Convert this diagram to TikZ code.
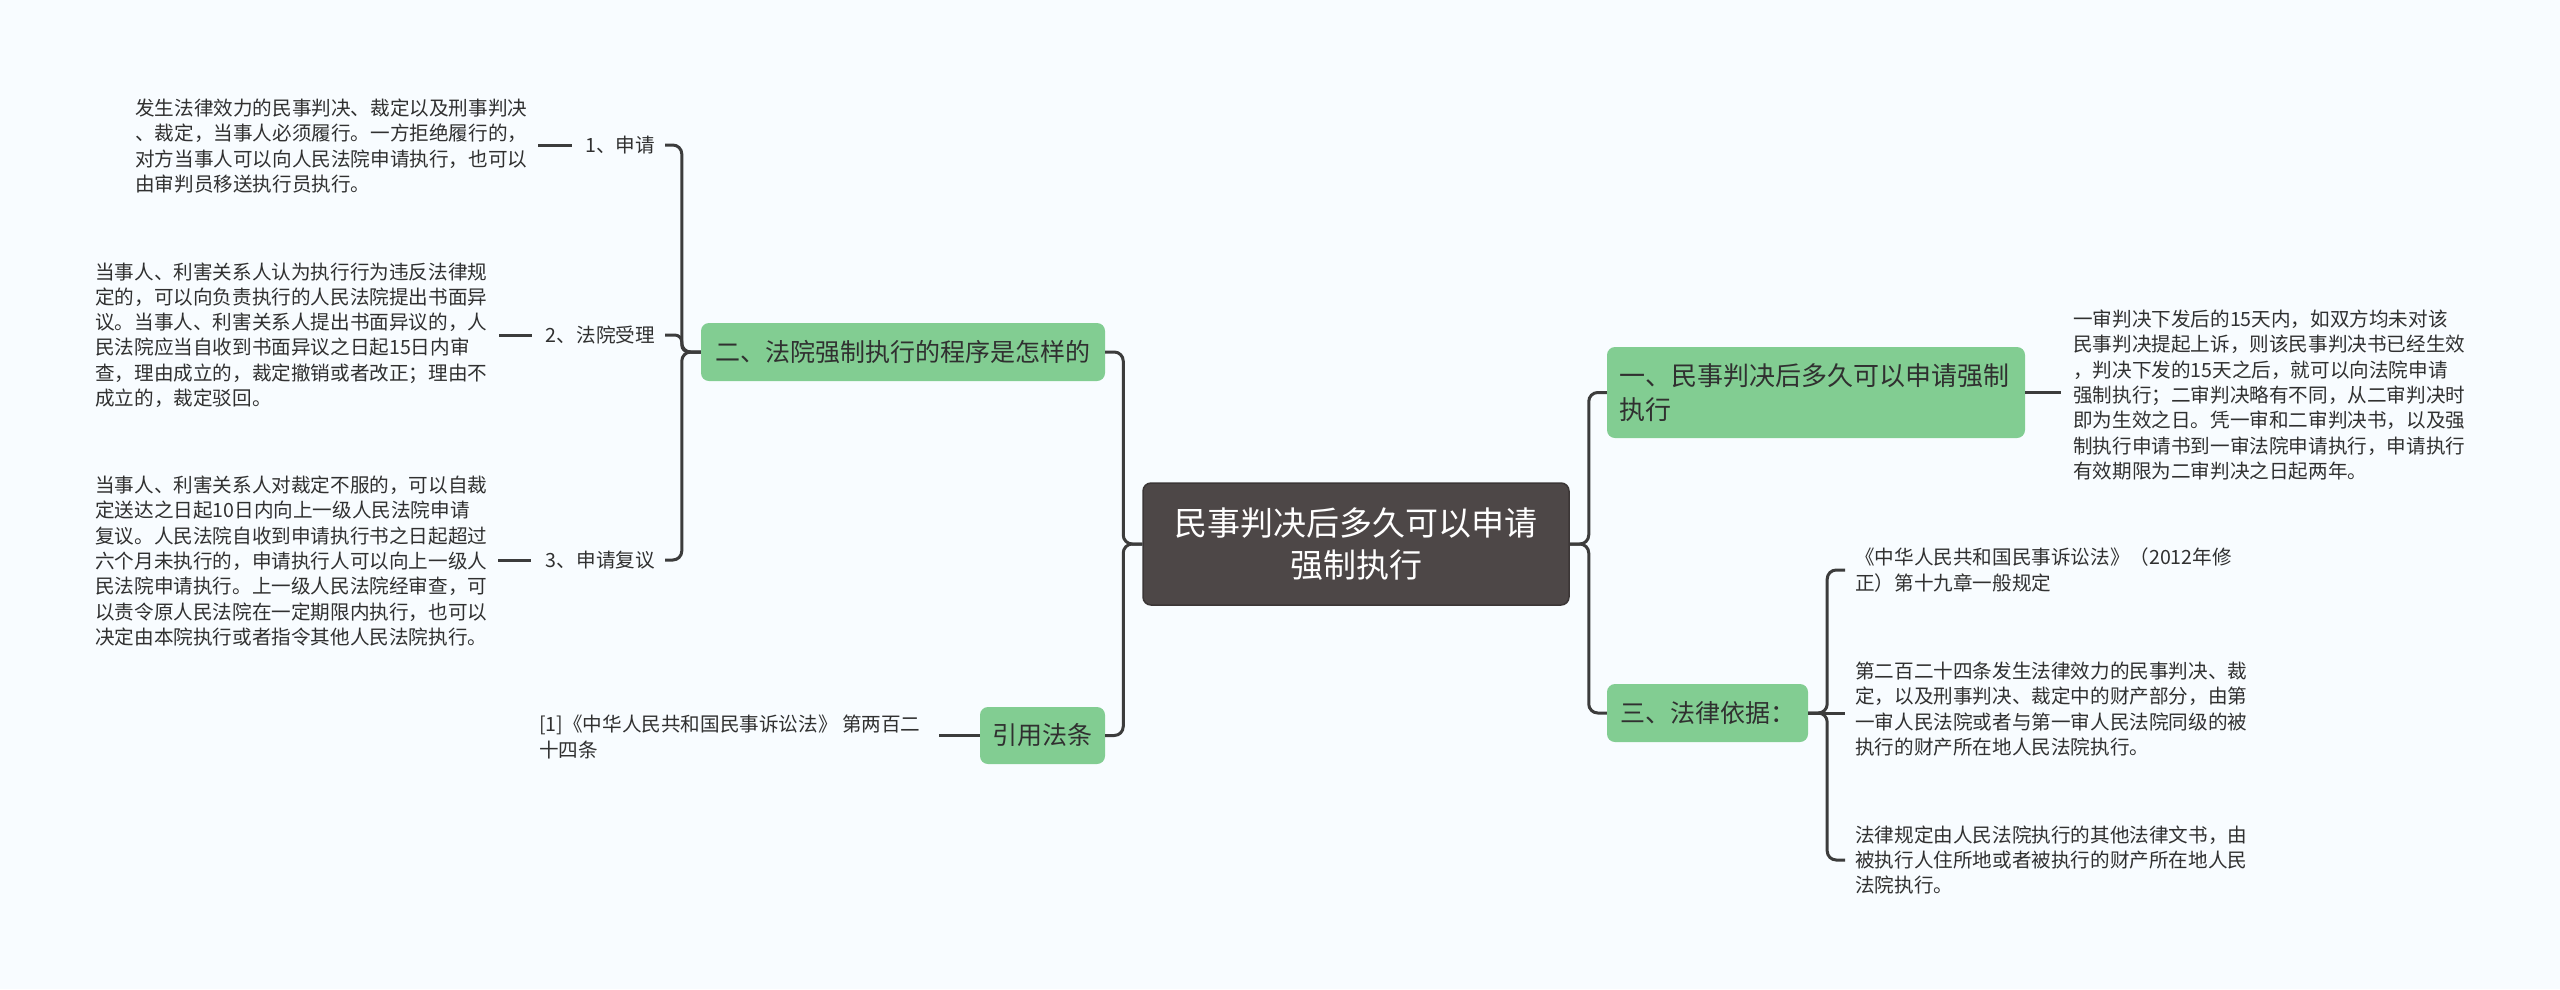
\documentclass[tikz,border=0pt]{standalone}
\usepackage{fontspec}
\setmainfont{Noto Sans CJK SC}
\definecolor{bgc}{HTML}{F8FCFF}
\definecolor{mmgreen}{HTML}{82CD92}
\definecolor{rootfill}{HTML}{4D4747}
\definecolor{rootline}{HTML}{3B3636}
\definecolor{conn}{HTML}{3C3C3C}
\definecolor{txt}{HTML}{303030}
\tikzset{
  body/.style={font=\fontsize{19.6}{25.3}\selectfont, text=txt, align=left, inner sep=0pt, anchor=west},
  lbl/.style={font=\fontsize{19.6}{25}\selectfont, text=txt, inner sep=0pt, anchor=east},
  topic/.style={fill=mmgreen, rounded corners=8pt, text=txt, font=\fontsize{25}{32}\selectfont, inner sep=0pt, align=center},
  rootbox/.style={fill=rootfill, draw=rootline, line width=1.5pt, rounded corners=8pt, text=white, font=\fontsize{33}{42}\selectfont, align=center, inner sep=0pt},
  link/.style={draw=conn, line width=3pt, rounded corners=9pt},
  stub/.style={draw=conn, line width=3pt}
}
\begin{document}
\begin{tikzpicture}[x=1pt,y=-1pt]
\useasboundingbox[fill=bgc] (0,0) rectangle (2560,989);

% root
\node[rootbox, minimum width=426pt, minimum height=122pt] (root) at (1356,544) {民事判决后多久可以申请\\强制执行};

% main topics
\node[topic, minimum width=404pt, minimum height=58pt] (b2) at (903,352) {二、法院强制执行的程序是怎样的};
\node[topic, minimum width=125pt, minimum height=57pt] (cite) at (1042.5,735.5) {引用法条};
\node[topic, minimum width=418pt, minimum height=91pt, text width=394pt, align=left, font=\fontsize{26}{34}\selectfont] (b1) at (1816,392.5) {一、民事判决后多久可以申请强制\\执行};
\node[topic, minimum width=201pt, minimum height=58pt] (b3) at (1707.5,713) {三、法律依据：};

% left labels
\node[lbl] (l1) at (655,145) {1、申请};
\node[lbl] (l2) at (655,335) {2、法院受理};
\node[lbl] (l3) at (655,560) {3、申请复议};

% left text blocks
\node[body] (t1) at (135,146) {发生法律效力的民事判决、裁定以及刑事判决\\、裁定，当事人必须履行。一方拒绝履行的，\\对方当事人可以向人民法院申请执行，也可以\\由审判员移送执行员执行。};
\node[body] (t2) at (95,335) {当事人、利害关系人认为执行行为违反法律规\\定的，可以向负责执行的人民法院提出书面异\\议。当事人、利害关系人提出书面异议的，人\\民法院应当自收到书面异议之日起15日内审\\查，理由成立的，裁定撤销或者改正；理由不\\成立的，裁定驳回。};
\node[body] (t3) at (95,561) {当事人、利害关系人对裁定不服的，可以自裁\\定送达之日起10日内向上一级人民法院申请\\复议。人民法院自收到申请执行书之日起超过\\六个月未执行的，申请执行人可以向上一级人\\民法院申请执行。上一级人民法院经审查，可\\以责令原人民法院在一定期限内执行，也可以\\决定由本院执行或者指令其他人民法院执行。};

\node[body] (ref) at (539,737) {[1]《中华人民共和国民事诉讼法》 第两百二\\十四条};

% right text blocks
\node[body] (r1) at (2073,395) {一审判决下发后的15天内，如双方均未对该\\民事判决提起上诉，则该民事判决书已经生效\\，判决下发的15天之后，就可以向法院申请\\强制执行；二审判决略有不同，从二审判决时\\即为生效之日。凭一审和二审判决书，以及强\\制执行申请书到一审法院申请执行，申请执行\\有效期限为二审判决之日起两年。};
\node[body] (a1) at (1855,570) {《中华人民共和国民事诉讼法》（2012年修\\正）第十九章一般规定};
\node[body] (a2) at (1855,709) {第二百二十四条发生法律效力的民事判决、裁\\定，以及刑事判决、裁定中的财产部分，由第\\一审人民法院或者与第一审人民法院同级的被\\执行的财产所在地人民法院执行。};
\node[body] (a3) at (1855,860) {法律规定由人民法院执行的其他法律文书，由\\被执行人住所地或者被执行的财产所在地人民\\法院执行。};

% connectors: root to topics
\draw[link] (root.west) -- ++(-19,0) |- (b2.east);
\draw[link] (root.west) -- ++(-19,0) |- (cite.east);
\draw[link] (root.east) -- ++(19,0) |- (b1.west);
\draw[link] (root.east) -- ++(19,0) |- (b3.west);

% left bracket
\draw[link] (b2.west) -- ++(-19,0) |- ([xshift=10pt]l1.east);
\draw[link, rounded corners=7pt] (b2.west) -- ++(-19,0) |- ([xshift=10pt]l2.east);
\draw[link] (b2.west) -- ++(-19,0) |- ([xshift=10pt]l3.east);

% label stubs
\draw[stub, shorten <=11pt, shorten >=13pt] (t1.east |- l1.west) -- (l1.west);
\draw[stub, shorten <=12pt, shorten >=14pt] (t2.east |- l2.west) -- (l2.west);
\draw[stub, shorten <=11pt, shorten >=15pt] (t3.east |- l3.west) -- (l3.west);
\draw[stub, shorten >=18pt] (cite.west) -- (ref.east |- cite.west);

% right side
\draw[stub, shorten >=12pt] (b1.east) -- (r1.west |- b1.east);
\draw[link] (b3.east) -- ++(19,0) |- ([xshift=-10pt]a1.west);
\draw[stub] (b3.east) -- ([xshift=-10pt]a2.west |- b3.east);
\draw[link] (b3.east) -- ++(19,0) |- ([xshift=-10pt]a3.west);
\end{tikzpicture}
\end{document}
